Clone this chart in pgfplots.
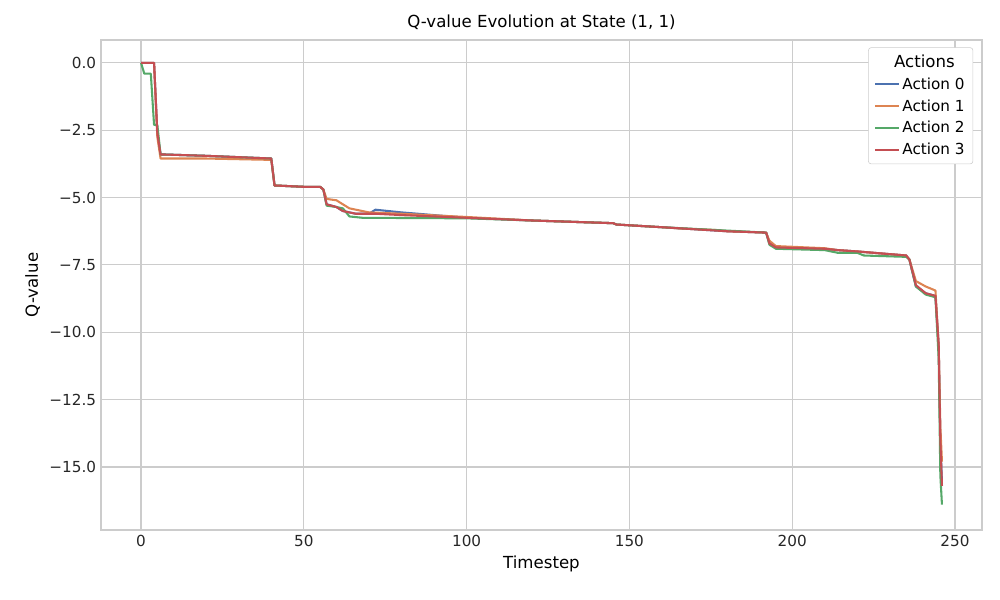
\documentclass[border=0pt]{standalone}
\usepackage{pgfplots}
\pgfplotsset{compat=1.18}
\usepackage{fontspec}
\setmainfont{DejaVu Sans}
\usetikzlibrary{calc}
\definecolor{c0}{HTML}{4C72B0}
\definecolor{c1}{HTML}{DD8452}
\definecolor{c2}{HTML}{55A868}
\definecolor{c3}{HTML}{C44E52}
\definecolor{gridc}{HTML}{CCCCCC}
\begin{document}
\begin{tikzpicture}
\begin{axis}[
 scale only axis, width=8.81in, height=4.9in,
 xmin=-12.3, xmax=258.3, ymin=-17.34, ymax=0.85,
 xtick={0,50,100,150,200,250}, ytick={-15,-12.5,-10,-7.5,-5,-2.5,0},
 yticklabels={−15.0,−12.5,−10.0,−7.5,−5.0,−2.5,0.0},
 xticklabels={0,50,100,150,200,250},
 ticklabel style={font=\fontsize{11}{13}\selectfont, text=black!85},
 tick style={draw=none},
 grid=major, major grid style={gridc, line width=0.8pt},
 axis line style={gridc, line width=1pt},
 title={Q-value Evolution at State (1, 1)},
 title style={font=\fontsize{12}{14}\selectfont, yshift=-2pt},
 xlabel={Timestep}, ylabel={Q-value},
 label style={font=\fontsize{12}{14}\selectfont},
 legend style={at={(0.99,0.985)}, anchor=north east, draw=gridc, rounded corners=2pt, font=\fontsize{11}{13}\selectfont, row sep=2pt, inner xsep=4pt, inner ysep=3pt},
 legend cell align=left,
 legend columns=1,
 every axis plot/.append style={line width=1.5pt, line join=round},
]
\addlegendimage{empty legend}
\addlegendentry{\hspace{-6pt}\fontsize{12}{14}\selectfont Actions}
\addplot[c0] coordinates {(0,0)(4,0)(5,-2.6)(6,-3.4)(7,-3.4)(20,-3.45)(40,-3.55)(41,-4.55)(50,-4.6)(55,-4.6)(56,-4.7)(57,-5.25)(60,-5.35)(62,-5.5)(66,-5.6)(70,-5.6)(72,-5.45)(80,-5.55)(100,-5.75)(120,-5.85)(145,-5.95)(146,-6.0)(160,-6.1)(180,-6.25)(192,-6.3)(193,-6.7)(195,-6.85)(210,-6.9)(214,-6.95)(220,-7.0)(235,-7.15)(236,-7.3)(238,-8.3)(241,-8.55)(244,-8.65)(245,-10.5)(245.5,-14)(246,-15.6)};
\addlegendentry{Action 0}
\addplot[c1] coordinates {(0,0)(4,0)(5,-2.75)(6,-3.55)(20,-3.55)(40,-3.6)(41,-4.55)(50,-4.6)(55,-4.6)(56,-4.7)(57,-5.05)(60,-5.1)(62,-5.25)(64,-5.4)(66,-5.45)(70,-5.55)(80,-5.6)(100,-5.72)(120,-5.85)(145,-5.95)(146,-6.0)(160,-6.1)(166,-6.15)(176,-6.2)(180,-6.25)(192,-6.3)(193,-6.6)(195,-6.8)(210,-6.88)(214,-6.95)(220,-7.0)(235,-7.15)(236,-7.3)(238,-8.1)(241,-8.3)(244,-8.45)(245,-10.5)(245.5,-13.5)(246,-14.8)};
\addlegendentry{Action 1}
\addplot[c2] coordinates {(0,0)(1,-0.4)(3,-0.4)(4,-2.3)(5,-2.3)(6,-3.4)(7,-3.4)(20,-3.45)(30,-3.5)(40,-3.55)(41,-4.55)(50,-4.6)(55,-4.6)(56,-4.7)(57,-5.3)(60,-5.35)(62,-5.4)(64,-5.7)(68,-5.75)(100,-5.77)(120,-5.85)(145,-5.95)(146,-6.0)(160,-6.1)(176,-6.2)(192,-6.3)(193,-6.75)(195,-6.9)(210,-6.95)(214,-7.05)(220,-7.05)(222,-7.15)(235,-7.2)(236,-7.3)(238,-8.3)(241,-8.6)(244,-8.7)(245,-11)(245.5,-15.3)(246,-16.4)};
\addlegendentry{Action 2}
\addplot[c3] coordinates {(0,0)(4,0)(5,-2.6)(6,-3.4)(7,-3.4)(20,-3.45)(40,-3.55)(41,-4.55)(50,-4.6)(55,-4.6)(56,-4.7)(57,-5.25)(60,-5.35)(62,-5.5)(66,-5.6)(72,-5.6)(80,-5.65)(100,-5.75)(120,-5.85)(145,-5.95)(146,-6.0)(160,-6.1)(180,-6.25)(192,-6.3)(193,-6.7)(195,-6.85)(210,-6.9)(214,-6.95)(220,-7.0)(235,-7.15)(236,-7.3)(238,-8.25)(241,-8.55)(244,-8.65)(245,-10.5)(245.5,-14)(246,-15.7)};
\addlegendentry{Action 3}
\end{axis}
\path[use as bounding box] ($(current axis.south west)+(-1.01in,-0.7in)$) rectangle ++(10in,6in);
\end{tikzpicture}
\end{document}
